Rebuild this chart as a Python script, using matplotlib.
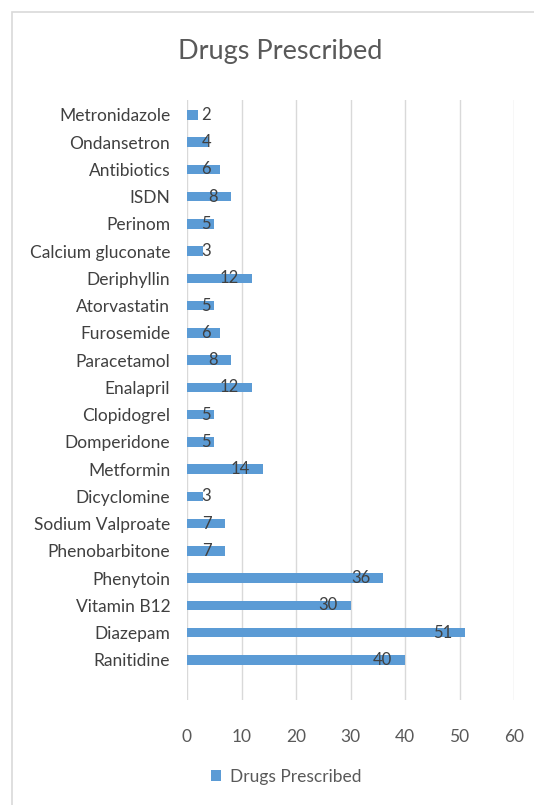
import matplotlib
matplotlib.use("Agg")
import matplotlib.pyplot as plt
from matplotlib.patches import Rectangle, Patch

plt.rcParams['font.family'] = ['Lato', 'DejaVu Sans']

categories = ["Ranitidine", "Diazepam", "Vitamin B12", "Phenytoin", "Phenobarbitone",
              "Sodium Valproate", "Dicyclomine", "Metformin", "Domperidone", "Clopidogrel",
              "Enalapril", "Paracetamol", "Furosemide", "Atorvastatin", "Deriphyllin",
              "Calcium gluconate", "Perinom", "ISDN", "Antibiotics", "Ondansetron",
              "Metronidazole"]
values = [40, 51, 30, 36, 7, 7, 3, 14, 5, 5, 12, 8, 6, 5, 12, 3, 5, 8, 6, 4, 2]
xticks = [0, 10, 20, 30, 40, 50, 60]
series_name = "Drugs Prescribed"

W, H = 534, 805
fig = plt.figure(figsize=(W / 100, H / 100), dpi=100)

# chart border
fig.patches.append(Rectangle((12 / W, -0.01), 1.0, 1 - 12 / H + 0.01,
                             transform=fig.transFigure, fill=False,
                             edgecolor="#d9d9d9", linewidth=1.2))

ax = fig.add_axes([187 / W, 1 - 700 / H, (514 - 187) / W, 600 / H])
bar_color = "#5B9BD5"
ypos = list(range(len(categories)))
ax.barh(ypos, values, height=0.35, color=bar_color, zorder=3)

ax.set_xlim(0, 60)
ax.set_ylim(-1.47, 20.55)
ax.set_xticks(xticks)
ax.set_xticklabels([str(t) for t in xticks])
ax.set_yticks(ypos)
ax.set_yticklabels(categories)
ax.tick_params(axis="y", length=0, pad=12, labelsize=12.5, labelcolor="#404040")
ax.tick_params(axis="x", length=0, pad=21, labelsize=12.5, labelcolor="#595959")
ax.grid(axis="x", color="#d9d9d9", linewidth=1.0, zorder=0)
for s in ax.spines.values():
    s.set_visible(False)

for y, v in zip(ypos, values):
    xl = max(v - 2.4, 4.4)
    ax.text(xl, y, str(v), ha="right", va="center", fontsize=12,
            color="#404040", zorder=4)

fig.text(0.525, 1 - 51 / H, "Drugs Prescribed", ha="center", va="center",
         fontsize=19.5, color="#595959")

fig.legend(handles=[Patch(facecolor=bar_color, edgecolor="none", label=series_name)],
           loc="center", bbox_to_anchor=(286 / W, 1 - 777 / H), frameon=False,
           fontsize=12.5, labelcolor="#595959", handlelength=0.6, handleheight=0.6,
           handletextpad=0.5)

fig.savefig("out.png", dpi=100)
